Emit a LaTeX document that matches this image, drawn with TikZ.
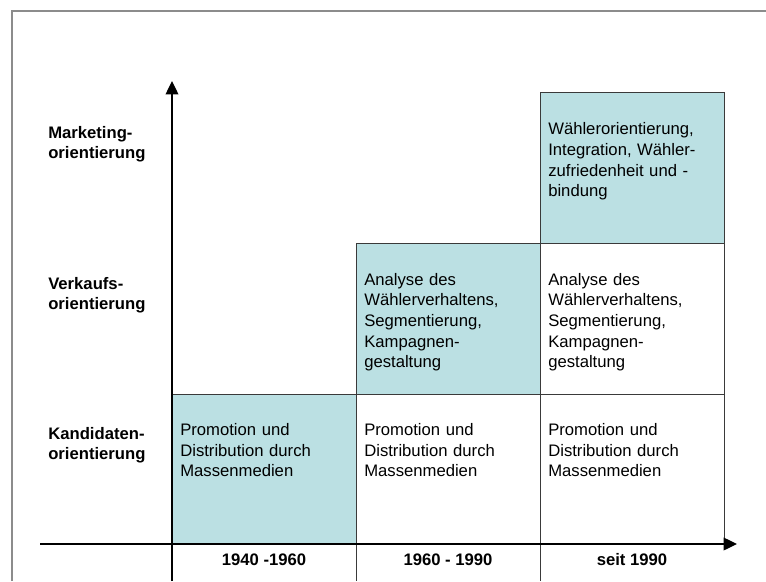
\documentclass[tikz,border=0pt]{standalone}
\usepackage{fontspec}
\setmainfont{Liberation Sans}
\usepackage{xcolor}
\definecolor{cellblue}{RGB}{187,224,227}
\definecolor{gridgray}{HTML}{3A3A3A}
\definecolor{framegray}{HTML}{8C8C8C}
\usetikzlibrary{arrows.meta}
\tikzset{>=stealth}
\tikzset{%
    celltext/.style={anchor=base west, inner sep=0pt, text width=125pt, align=left,
        font=\fontsize{12.5}{15.5}\selectfont},
    rowlabel/.style={celltext, font=\fontsize{12.5}{15.5}\selectfont\bfseries},
    yearlabel/.style={anchor=base, inner sep=0pt, font=\fontsize{12.5}{15.5}\selectfont\bfseries},
    cellbox/.style={draw=gridgray, line width=0.75pt},
    axis/.style={-{Triangle[length=10pt,width=9.5pt]}, line width=1pt}
}

\begin{document}
\begin{tikzpicture}[x=0.75pt,y=-0.75pt]
    \useasboundingbox (0,0) rectangle (766,581);
    \draw[framegray, line width=0.9pt] (12,581)--(12,11)--(766,11);

    % Zellen
    \filldraw[cellbox, fill=cellblue] (172,394) rectangle (356,544);
    \filldraw[cellbox, fill=cellblue] (356,243) rectangle (540,394);
    \draw[cellbox] (356,394) rectangle (540,544);
    \filldraw[cellbox, fill=cellblue] (540,93) rectangle (724,243);
    \draw[cellbox] (540,243) rectangle (724,394);
    \draw[cellbox] (540,394) rectangle (724,544);
    \draw[cellbox] (356,544)--(356,581);
    \draw[cellbox] (540,544)--(540,581);

    % Achsen
    \coordinate (ybot) at (172,581);
    \coordinate (ytop) at (172,81);
    \coordinate (xleft) at (40,544);
    \coordinate (xright) at (737,544);
    \draw[axis] (ybot)--(ytop);
    \draw[axis] (xleft)--(xright);

    % Zeilen
    \node[rowlabel] (marketing) at (48,138) {Marketing-\\orientierung};
    \node[rowlabel] (verkauf) at (48,289) {Verkaufs-\\orientierung};
    \node[rowlabel] (kandidat) at (48,439) {Kandidaten-\\orientierung};

    % Inhalte
    \node[celltext] (promoA) at (180,435.5) {Promotion und\\Distribution durch\\Massenmedien};
    \node[celltext] (promoB) at (364,435.5) {Promotion und\\Distribution durch\\Massenmedien};
    \node[celltext] (promoC) at (548,435.5) {Promotion und\\Distribution durch\\Massenmedien};
    \node[celltext] (analyseB) at (364,285) {Analyse des\\Wählerverhaltens,\\Segmentierung,\\Kampagnen-\\gestaltung};
    \node[celltext] (analyseC) at (548,285) {Analyse des\\Wählerverhaltens,\\Segmentierung,\\Kampagnen-\\gestaltung};
    \node[celltext] (waehlerC) at (548,135) {Wählerorientierung,\\Integration, Wähler-\\zufriedenheit und -\\bindung};

    % Zeitraeume
    \node[yearlabel] (jahrA) at (264,565) {1940 -1960};
    \node[yearlabel] (jahrB) at (448,565) {1960 - 1990};
    \node[yearlabel] (jahrC) at (632,565) {seit 1990};
\end{tikzpicture}
\end{document}
